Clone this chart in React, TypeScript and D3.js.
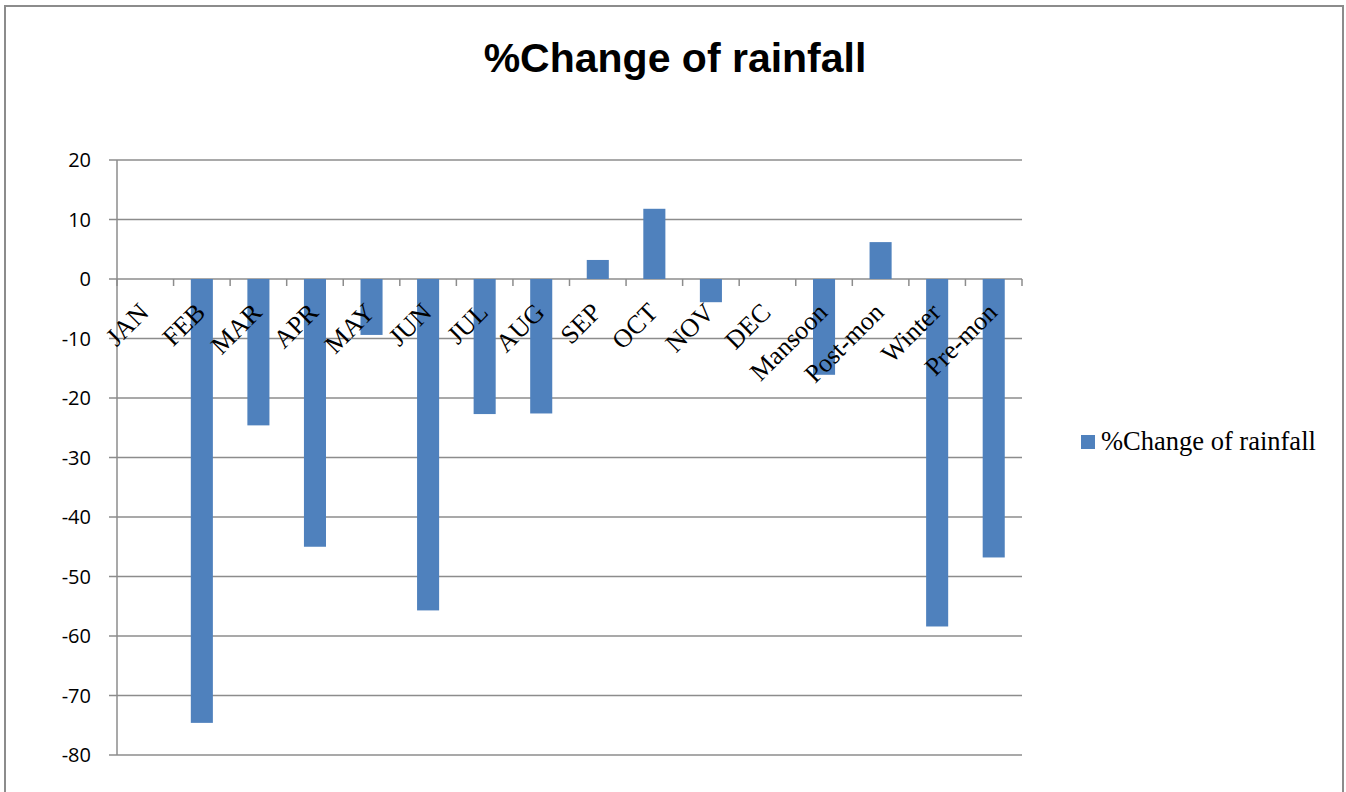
import { useEffect, useRef } from "react";
import * as d3 from "d3";

const categories = [
  "JAN", "FEB", "MAR", "APR", "MAY", "JUN", "JUL", "AUG", "SEP", "OCT", "NOV", "DEC",
  "Mansoon", "Post-mon", "Winter", "Pre-mon",
];
const changeValues = [0, -74.6, -24.6, -45, -9.4, -55.7, -22.7, -22.6, 3.2, 11.8, -3.9, 0, -16.1, 6.2, -58.4, -46.8];
const yTicks = [20, 10, 0, -10, -20, -30, -40, -50, -60, -70, -80];
const seriesName = "%Change of rainfall";

const W = 1346;
const H = 792;

export default function App() {
  const ref = useRef<SVGSVGElement | null>(null);

  useEffect(() => {
    if (!ref.current) return;
    const svg = d3.select(ref.current);
    svg.selectAll("*").remove();

    const left = 117, right = 1022, top = 160, bottom = 755;
    const x = d3.scaleBand<string>().domain(categories).range([left, right]).paddingInner(0.61).paddingOuter(0.305);
    const y = d3.scaleLinear().domain([-80, 20]).range([bottom, top]);
    const grid = "#8c8c8c";

    // outer border
    svg.append("rect")
      .attr("x", 5).attr("y", 6).attr("width", 1338).attr("height", 800)
      .attr("fill", "white").attr("stroke", grid).attr("stroke-width", 2);

    svg.append("text")
      .attr("x", 675).attr("y", 72)
      .attr("text-anchor", "middle")
      .style("font-family", "'Liberation Sans', Arial, sans-serif")
      .style("font-size", "41px").style("font-weight", 700)
      .text("%Change of rainfall");

    // gridlines + y labels
    const g = svg.append("g");
    g.selectAll("line.grid").data(yTicks).enter().append("line")
      .attr("x1", left - 8).attr("x2", right)
      .attr("y1", (d) => y(d)).attr("y2", (d) => y(d))
      .attr("stroke", grid).attr("stroke-width", 1.5);
    g.selectAll("text.ylab").data(yTicks).enter().append("text")
      .attr("x", 91).attr("y", (d) => y(d)).attr("dy", "0.35em")
      .attr("text-anchor", "end")
      .style("font-family", "'Open Sans', 'Liberation Sans', sans-serif")
      .style("font-size", "20px")
      .text((d) => String(d));

    g.append("line").attr("x1", left).attr("x2", left).attr("y1", top).attr("y2", bottom)
      .attr("stroke", grid).attr("stroke-width", 1.5);

    // bars
    g.selectAll("rect.bar").data(categories).enter().append("rect")
      .attr("x", (d) => x(d)!)
      .attr("width", x.bandwidth())
      .attr("y", (d, i) => y(Math.max(0, changeValues[i])))
      .attr("height", (d, i) => Math.abs(y(changeValues[i]) - y(0)))
      .attr("fill", "#4f81bd");

    // x axis on zero line with ticks
    const step = x.step();
    const tickXs = d3.range(categories.length + 1).map((i) => left + i * step);
    g.selectAll("line.xt").data(tickXs).enter().append("line")
      .attr("x1", (d) => d).attr("x2", (d) => d)
      .attr("y1", y(0)).attr("y2", y(0) + 7)
      .attr("stroke", grid).attr("stroke-width", 1.5);

    g.selectAll("text.xlab").data(categories).enter().append("text")
      .attr("transform", (d) => `translate(${x(d)! + x.bandwidth() / 2 - 8},${y(0) + 22}) rotate(-45)`)
      .attr("text-anchor", "end")
      .attr("dy", "0.7em")
      .style("font-family", "'Liberation Serif', 'Times New Roman', serif")
      .style("font-size", "26px")
      .text((d) => d);

    // legend
    svg.append("rect").attr("x", 1081).attr("y", 435).attr("width", 14).attr("height", 14).attr("fill", "#4f81bd");
    svg.append("text").attr("x", 1101).attr("y", 450)
      .style("font-family", "'Liberation Serif', 'Times New Roman', serif")
      .style("font-size", "26.5px")
      .text(seriesName);
  }, []);

  return <svg ref={ref} width={W} height={H} style={{ display: "block", position: "absolute", left: 0, top: 0 }} />;
}
